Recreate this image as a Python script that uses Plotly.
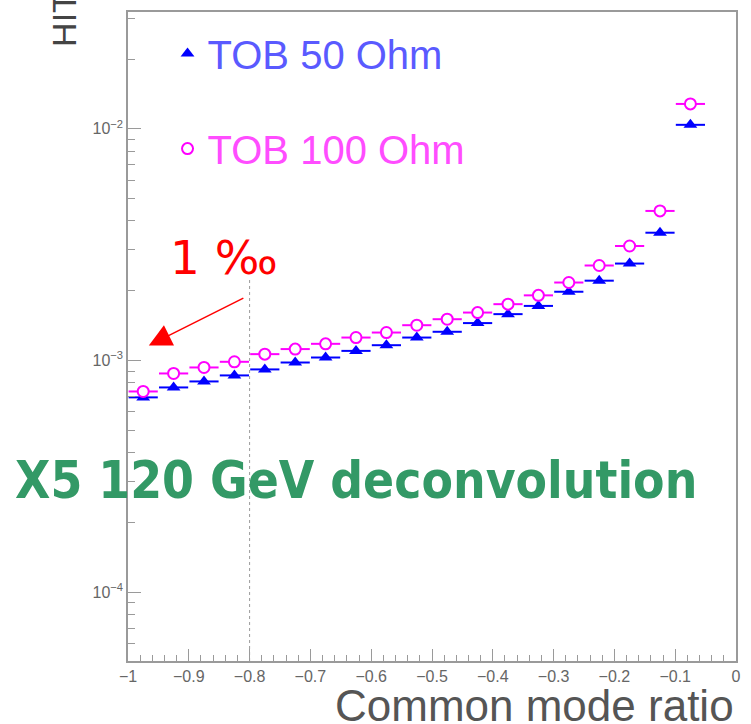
import plotly.graph_objects as go

# ---- data ----
x_centers = [-0.975, -0.925, -0.875, -0.825, -0.775, -0.725, -0.675, -0.625, -0.575,
             -0.525, -0.475, -0.425, -0.375, -0.325, -0.275, -0.225, -0.175, -0.125, -0.075]
bin_half = [0.024] * len(x_centers)

tob_50 = [6.93e-4, 7.65e-4, 8.12e-4, 8.62e-4, 9.15e-4, 9.80e-4, 1.03e-3, 1.10e-3, 1.164e-3,
          1.256e-3, 1.33e-3, 1.45e-3, 1.585e-3, 1.72e-3, 1.98e-3, 2.21e-3, 2.62e-3, 3.56e-3, 1.04e-2]
tob_100 = [7.35e-4, 8.79e-4, 9.33e-4, 9.87e-4, 1.065e-3, 1.12e-3, 1.18e-3, 1.256e-3, 1.32e-3,
           1.42e-3, 1.507e-3, 1.61e-3, 1.75e-3, 1.91e-3, 2.17e-3, 2.57e-3, 3.12e-3, 4.42e-3, 1.28e-2]

x_ticks = [-1, -0.9, -0.8, -0.7, -0.6, -0.5, -0.4, -0.3, -0.2, -0.1, 0]
x_ticktext = ["\u22121", "\u22120.9", "\u22120.8", "\u22120.7", "\u22120.6", "\u22120.5",
              "\u22120.4", "\u22120.3", "\u22120.2", "\u22120.1", "0"]
x_minor = [round(-1 + 0.02 * i, 2) for i in range(51)]
y_ticks = [1e-4, 1e-3, 1e-2]
y_ticktext = ["10<sup>\u22124</sup>", "10<sup>\u22123</sup>", "10<sup>\u22122</sup>"]
y_minor = [m * 10 ** e for e in (-5, -4, -3, -2) for m in range(2, 10)]

BLUE = "#0000ff"
PINK = "#ff00ff"
AXC = "#9a9a9a"
FONT = "Liberation Sans"

fig = go.Figure()
fig.add_trace(go.Scatter(
    x=x_centers, y=tob_50, mode="markers", legendgroup="a",
    name="<span style='color:#5a5aff'>TOB 50 Ohm</span>",
    marker=dict(symbol="triangle-up", size=12, color=BLUE),
    error_x=dict(type="data", array=bin_half, color=BLUE, thickness=2, width=0),
))
fig.add_trace(go.Scatter(
    x=x_centers, y=tob_100, mode="markers", legendgroup="b",
    name="<span style='color:#ff4dff'>TOB 100 Ohm</span>",
    marker=dict(symbol="circle", size=11, color="white", line=dict(color=PINK, width=2)),
    error_x=dict(type="data", array=bin_half, color=PINK, thickness=2, width=0),
))

# dotted reference line at -0.8
fig.add_shape(type="line", xref="x", yref="paper", x0=-0.8, x1=-0.8, y0=0, y1=0.59,
              line=dict(color="#9a9a9a", width=1, dash="3px,3px"), layer="below")

# annotations
fig.add_annotation(text="1 \u2030", xref="paper", yref="paper", x=0.066, y=0.622,
                   xanchor="left", yanchor="middle", showarrow=False,
                   font=dict(family="DejaVu Sans", size=47, color="#ff0000"))
fig.add_annotation(text="", xref="x", yref="y", x=-0.9657, y=-2.935,
                   ax=96, ay=-48, showarrow=True, arrowhead=2, arrowsize=3,
                   arrowwidth=1.5, arrowcolor="#ff0000", standoff=0)
fig.add_annotation(text="<b>X5 120 GeV deconvolution</b>", xref="paper", yref="paper",
                   x=0.375, y=0.229, showarrow=False,
                   font=dict(family="DejaVu Sans Condensed", size=51, color="#339966"))
fig.add_annotation(text="Common mode ratio", xref="paper", yref="paper", x=1.0, y=-0.068,
                   xanchor="right", yanchor="middle", showarrow=False,
                   font=dict(family=FONT, size=44, color="#555555"))
fig.add_annotation(text="HITS", xref="paper", yref="paper", x=-0.1046, y=0.943,
                   xanchor="center", yanchor="bottom", textangle=-90, showarrow=False,
                   font=dict(family=FONT, size=34, color="#444444"))

fig.update_layout(
    width=751, height=724,
    margin=dict(l=128, r=11, t=10, b=63),
    paper_bgcolor="white", plot_bgcolor="white",
    showlegend=True,
    legend=dict(x=0.065, y=0.986, xanchor="left", yanchor="top",
                font=dict(family=FONT, size=40), bgcolor="rgba(0,0,0,0)",
                tracegroupgap=40, traceorder="grouped"),
    xaxis=dict(range=[-1, 0], showline=True, linecolor=AXC, linewidth=1.5, mirror=True,
               showgrid=False, zeroline=False, ticks="inside", ticklen=12, tickwidth=1,
               tickcolor=AXC, tickvals=x_ticks, ticktext=x_ticktext,
               tickfont=dict(family=FONT, size=16, color="#666666"),
               minor=dict(tickvals=x_minor, ticks="inside", ticklen=6, tickcolor=AXC)),
    yaxis=dict(type="log", range=[-4.297, -1.496], showline=True, linecolor=AXC,
               linewidth=1.5, mirror=True, showgrid=False, zeroline=False,
               ticks="inside", ticklen=13, tickwidth=1, tickcolor=AXC,
               tickvals=y_ticks, ticktext=y_ticktext,
               tickfont=dict(family=FONT, size=16, color="#666666"),
               minor=dict(tickvals=y_minor, ticks="inside", ticklen=7, tickcolor=AXC)),
)

fig.write_html("out.html")
